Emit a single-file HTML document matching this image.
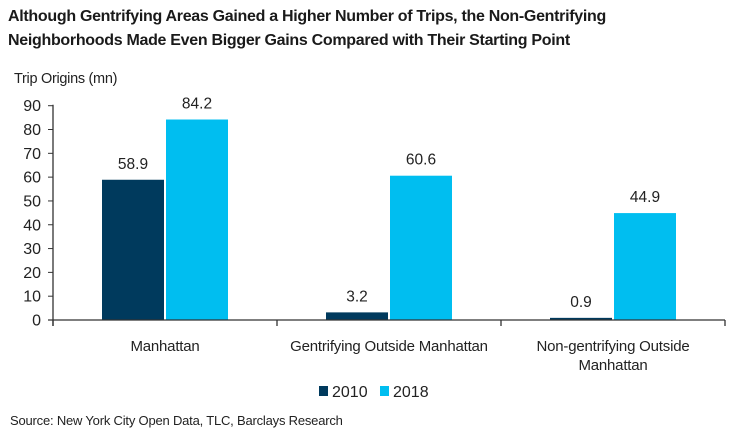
<!DOCTYPE html>
<html><head><meta charset="utf-8"><style>
body{margin:0;background:#fff;width:729px;height:433px;overflow:hidden;font-family:"Liberation Sans",sans-serif;color:#222}
.t{position:absolute;left:8px;top:5px;font-size:16px;font-weight:bold;line-height:24px;color:#1a1a1a;letter-spacing:-0.3px}
</style></head><body>
<div class="t">Although Gentrifying Areas Gained a Higher Number of Trips, the Non-Gentrifying<br>Neighborhoods Made Even Bigger Gains Compared with Their Starting Point</div>
<svg id="c" width="729" height="433" style="position:absolute;left:0;top:0" font-family="Liberation Sans, sans-serif">
<text x="14" y="83" font-size="14.5" fill="#222" letter-spacing="-0.3">Trip Origins (mn)</text>
<text x="10" y="425" font-size="13" fill="#222" letter-spacing="-0.2">Source: New York City Open Data, TLC, Barclays Research</text>
</svg>
<script>
const categories=[["Manhattan"],["Gentrifying Outside Manhattan"],["Non-gentrifying Outside","Manhattan"]];
const values2010=[58.9,3.2,0.9];
const values2018=[84.2,60.6,44.9];
const labels2010=["58.9","3.2","0.9"];
const labels2018=["84.2","60.6","44.9"];
const yTicks=[0,10,20,30,40,50,60,70,80,90];
const series=["2010","2018"];
const colors=["#003A5D","#00BEF0"];
const svg=document.getElementById('c');const NS='http://www.w3.org/2000/svg';
const x0=53,x1=725,yb=320,yt=105.7,ymax=90;
const y=v=>yb-(v/ymax)*(yb-yt);
const gw=(x1-x0)/categories.length;
const cx=i=>x0+gw*(i+0.5);
function mk(t,a){const e=document.createElementNS(NS,t);for(const k in a)e.setAttribute(k,a[k]);svg.appendChild(e);return e;}
yTicks.forEach(v=>{
 const l=mk('line',{x1:x0-5,x2:x0,y1:y(v),y2:y(v),stroke:'#333','stroke-width':1});
 
 
 const t=mk('text',{x:x0-12,y:y(v)+5.5,'text-anchor':'end','font-size':16,fill:'#222'});t.textContent=v;
 
 
});
categories.forEach((c,i)=>{
 [[values2010,labels2010,0],[values2018,labels2018,1]].forEach(([vals,labs,s])=>{
  const bx=s===0?cx(i)-63:cx(i)+1;
  const r=mk('rect',{x:bx,y:y(vals[i]),width:62,height:yb-y(vals[i]),fill:colors[s]});
  
  
  const t=mk('text',{x:bx+31,y:y(vals[i])-11,'text-anchor':'middle','font-size':15.5,fill:'#222'});t.textContent=labs[i];
  
  
 });
 c.forEach((ln,j)=>{const t=mk('text',{x:cx(i),y:351+j*19,'text-anchor':'middle','font-size':15,fill:'#222','letter-spacing':'-0.2'});t.textContent=ln;
  
  });
});
for(let i=0;i<=categories.length;i++){const l=mk('line',{x1:x0+gw*i,x2:x0+gw*i,y1:yb,y2:yb+6,stroke:'#333','stroke-width':1.3});
 
 }
const ax=mk('line',{x1:x0,x2:x0,y1:yt-1,y2:yb+6,stroke:'#333','stroke-width':1.3});


const bx=mk('line',{x1:x0-5,x2:x1,y1:yb,y2:yb,stroke:'#333','stroke-width':1.3});


const lx=[319,380];
series.forEach((s,i)=>{
 const r=mk('rect',{x:lx[i],y:386,width:9,height:10,fill:colors[i]});
 
 
 const t=mk('text',{x:lx[i]+13,y:397,'font-size':16,fill:'#222'});t.textContent=s;
 
 
});
</script>
</body></html>
